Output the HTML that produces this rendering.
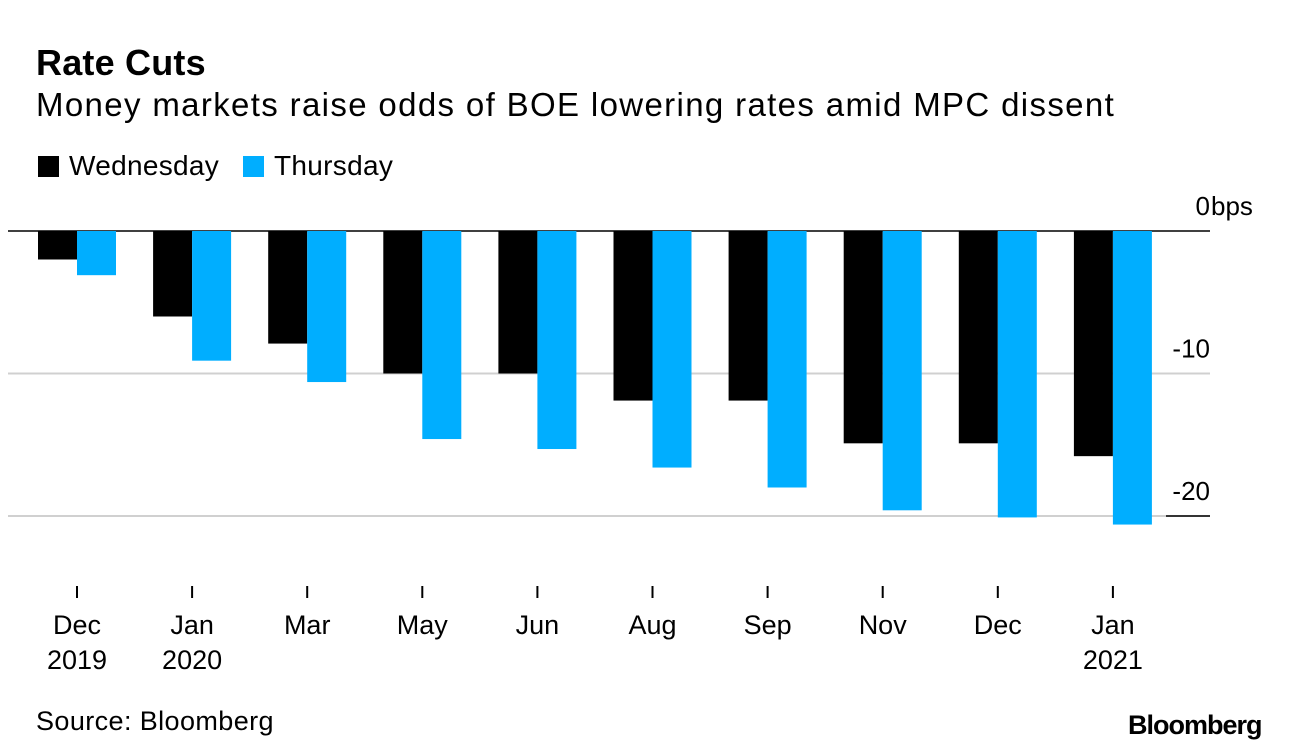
<!DOCTYPE html>
<html><head><meta charset="utf-8">
<style>
body{margin:0;background:#fff;font-family:"Liberation Sans",sans-serif;}
#wrap{position:relative;width:1296px;height:754px;overflow:hidden;}
.t{position:absolute;white-space:nowrap;color:#000;}
</style></head>
<body>
<div id="wrap">
<div class="t" style="left:36px;top:42px;font-size:36px;font-weight:bold;letter-spacing:0.2px;">Rate Cuts</div>
<div class="t" style="left:36px;top:86px;font-size:33px;letter-spacing:1.35px;">Money markets raise odds of BOE lowering rates amid MPC dissent</div>
<div class="t" style="left:38px;top:150px;font-size:28px;letter-spacing:0.3px;"><span style="display:inline-block;width:21px;height:21px;background:#000;vertical-align:-2px;margin-right:10px;"></span>Wednesday</div>
<div class="t" style="left:243px;top:150px;font-size:28px;letter-spacing:0.3px;"><span style="display:inline-block;width:21px;height:21px;background:#00aeff;vertical-align:-2px;margin-right:10px;"></span>Thursday</div>
<svg id="chart" width="1296" height="754" style="position:absolute;left:0;top:0;"></svg>
<div class="t" style="left:36px;top:706px;font-size:27px;letter-spacing:0.4px;">Source: Bloomberg</div>
<div class="t" style="left:1128px;top:710px;font-size:27px;font-weight:bold;letter-spacing:-1px;">Bloomberg</div>
</div>
<script>
const months=["Dec","Jan","Mar","May","Jun","Aug","Sep","Nov","Dec","Jan"];
const years=["2019","2020","","","","","","","","2021"];
const wednesday=[-2,-6,-7.9,-10,-10,-11.9,-11.9,-14.9,-14.9,-15.8];
const thursday=[-3.1,-9.1,-10.6,-14.6,-15.3,-16.6,-18,-19.6,-20.1,-20.6];
const yTicks=[0,-10,-20];
const yTickLabels=["0","-10","-20"];
const NS="http://www.w3.org/2000/svg";
const svg=document.getElementById('chart');
const y=v=>231-v*14.25;
const xc=i=>77+i*115.1;
const bw=39;
function mk(tag,attrs){const e=document.createElementNS(NS,tag);for(const k in attrs)e.setAttribute(k,attrs[k]);svg.appendChild(e);return e;}
yTicks.forEach((t,i)=>{
  const l=mk('line',{x1:8,x2:1210,y1:y(t),y2:y(t),stroke:t===0?'#000':'#d0d0d0','stroke-width':t===0?1.5:2});
  
  
  const tx=mk('text',{x:1210,y:y(t)-16,'text-anchor':'end','font-size':26,'font-family':'Liberation Sans, sans-serif'});
  tx.textContent=yTickLabels[i];
  
  
});
const unit=mk('text',{x:1211,y:y(0)-16,'font-size':26,'font-family':'Liberation Sans, sans-serif'});
unit.textContent='bps';


const seg=mk('line',{x1:1166,x2:1210,y1:y(-20),y2:y(-20),stroke:'#000','stroke-width':1.5});


months.forEach((m,i)=>{
  const b1=mk('rect',{x:xc(i)-bw,y:y(0),width:bw,height:y(wednesday[i])-y(0),fill:'#000'});
  
  
  const b2=mk('rect',{x:xc(i),y:y(0),width:bw,height:y(thursday[i])-y(0),fill:'#00aeff'});
  
  
  const tk=mk('line',{x1:xc(i),x2:xc(i),y1:586,y2:598,stroke:'#000','stroke-width':2});
  
  
  const t1=mk('text',{x:xc(i),y:634,'text-anchor':'middle','font-size':27,'font-family':'Liberation Sans, sans-serif'});
  t1.textContent=m;
  
  
  if(years[i]){
    const t2=mk('text',{x:xc(i),y:669,'text-anchor':'middle','font-size':27,'font-family':'Liberation Sans, sans-serif'});
    t2.textContent=years[i];
    
    
  }
});
</script>
</body></html>
